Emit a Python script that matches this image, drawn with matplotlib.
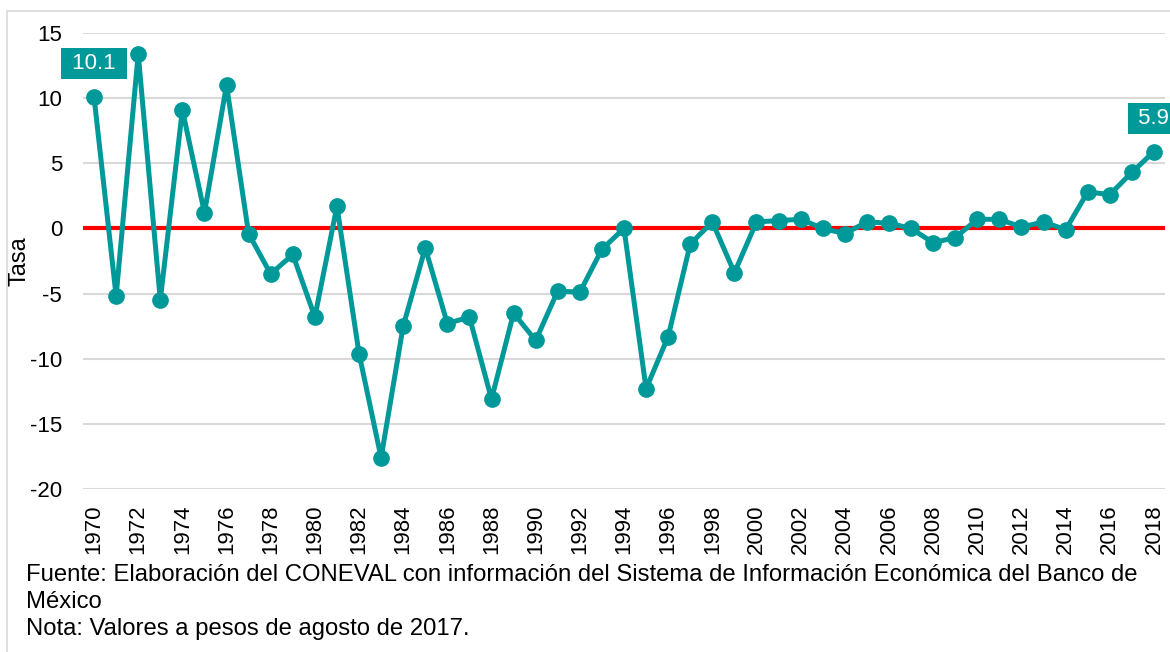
"""Tasa de variación anual, 1970-2018 (CONEVAL)."""

import matplotlib.pyplot as plt
from matplotlib.patches import Rectangle

plt.rcParams["font.family"] = ["Liberation Sans", "DejaVu Sans"]
plt.rcParams["axes.unicode_minus"] = False

years = list(range(1970, 2019))
tasa = [
    10.1, -5.2, 13.4, -5.5, 9.1, 1.2, 11.0, -0.4, -3.5, -2.0,
    -6.8, 1.7, -9.6, -17.6, -7.5, -1.5, -7.3, -6.8, -13.1, -6.5,
    -8.6, -4.8, -4.9, -1.6, 0.0, -12.3, -8.3, -1.2, 0.5, -3.4,
    0.5, 0.6, 0.7, 0.0, -0.4, 0.5, 0.4, 0.0, -1.1, -0.7,
    0.7, 0.7, 0.1, 0.5, -0.1, 2.8, 2.6, 4.3, 5.9,
]
yticks = [15, 10, 5, 0, -5, -10, -15, -20]
labelled = {1970: "10.1", 2018: "5.9"}

teal = "#009999"

fig = plt.figure(figsize=(11.70, 6.52), dpi=100)
ax = fig.add_axes([83 / 1170, 1 - 489 / 652, (1165 - 83) / 1170, (489 - 33) / 652])

# outer frame
fig.patches.append(Rectangle((7 / 1170, -0.05), 1.2, 1.05 - 11 / 652,
                             transform=fig.transFigure, fill=False,
                             edgecolor="#d9d9d9", linewidth=1.2))

for y in yticks:
    if y != 0:
        ax.axhline(y, color="#d9d9d9", linewidth=1.5, zorder=0)
ax.axhline(0, color="#ff0000", linewidth=3, zorder=1)

ax.plot(years, tasa, color=teal, linewidth=3.6, marker="o", markersize=11,
        zorder=3, clip_on=False)

for yr, txt in labelled.items():
    v = tasa[years.index(yr)]
    ax.annotate(f" {txt} ", (yr, v), xytext=(0, 24), textcoords="offset points",
                ha="center", va="center", color="white", fontsize=16,
                bbox=dict(boxstyle="square,pad=0.22", fc=teal, ec="none"),
                annotation_clip=False)

ax.set_xlim(1969.5, 2018.5)
ax.set_ylim(-20, 15)
ax.set_yticks(yticks)
ax.set_xticks(years[::2])
ax.set_xticklabels([str(y) for y in years[::2]], rotation=90)
ax.tick_params(axis="x", length=0, labelsize=16, pad=11)
ax.tick_params(axis="y", length=0, labelsize=16, pad=15)
for s in ax.spines.values():
    s.set_visible(False)
ax.set_ylabel("Tasa", fontsize=17)
ax.yaxis.set_label_coords((30 - 83) / 1082, 0.5)

notes = [
    "Fuente: Elaboración del CONEVAL con información del Sistema de Información Económica del Banco de",
    "México",
    "Nota: Valores a pesos de agosto de 2017.",
]
for i, line in enumerate(notes):
    fig.text(26 / 1170, 1 - (581 + 27 * i) / 652, line, fontsize=17.2,
             ha="left", va="baseline")

fig.savefig("out.png", dpi=100)
